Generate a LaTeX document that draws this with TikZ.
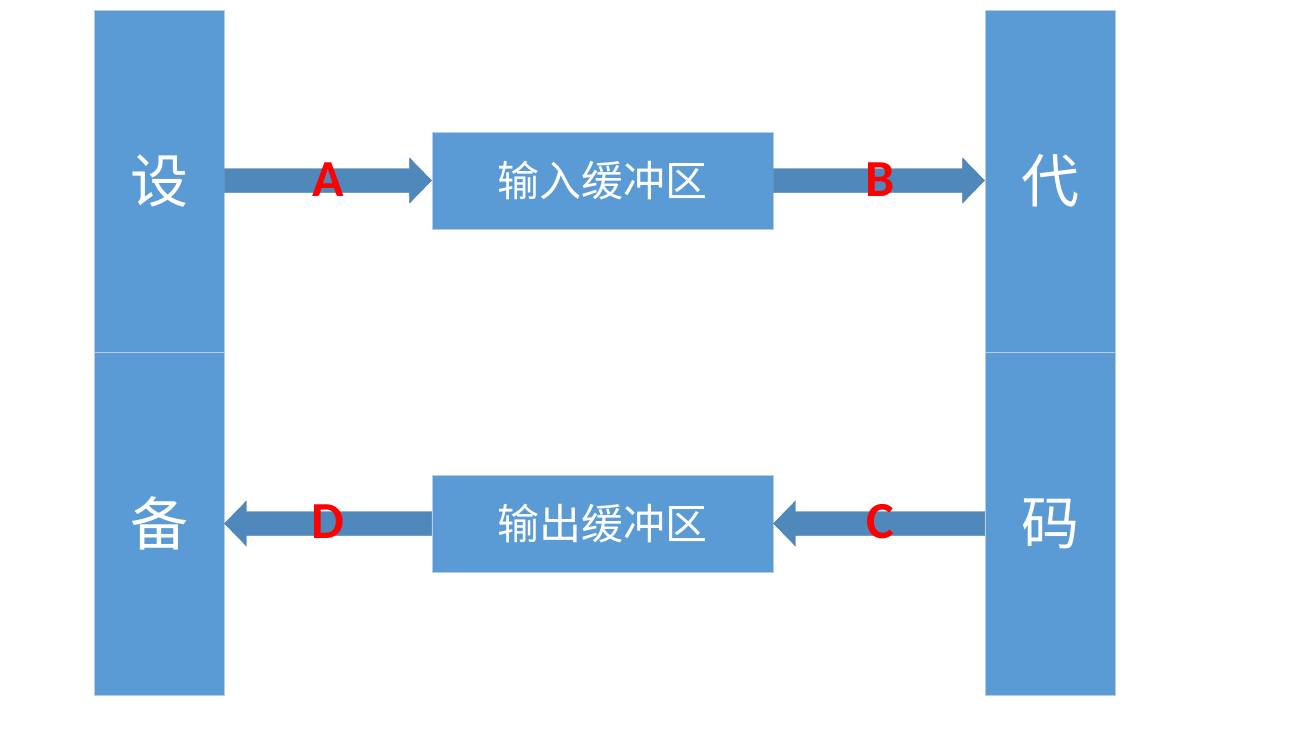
\documentclass[tikz,border=0pt]{standalone}
\usepackage{fontspec}
\newfontfamily\cjk{Noto Sans CJK SC}
\newfontfamily\lat{Carlito}[BoldFont={Carlito Bold}]
\usetikzlibrary{calc}
\definecolor{boxblue}{HTML}{5B9BD5}
\definecolor{boxline}{HTML}{B7CCE2}
\definecolor{arrowblue}{HTML}{4F89BC}
\definecolor{lblred}{HTML}{FF0000}
\tikzset{
  colbox/.style={rectangle, fill=boxblue, draw=boxline, line width=0.8pt, inner sep=0pt,
     minimum width=130pt, text=white, font=\cjk\fontsize{58}{60}\selectfont},
  bufbox/.style={rectangle, fill=boxblue, draw=boxline, line width=0.8pt, inner sep=0pt,
     minimum width=341pt, minimum height=97pt, text=white, font=\cjk\fontsize{42}{44}\selectfont},
  lbl/.style={text=lblred, font=\lat\bfseries\fontsize{52}{54}\selectfont, inner sep=0pt},
  barrow/.style={fill=arrowblue, draw=arrowblue!90!black, line width=0.3pt}
}
\newcommand\blockarrow[2]{%
  \path[barrow] let \p1=(#1), \p2=(#2), \n1={sign(\x2-\x1)} in
    (\x1,\y1+12pt) -- (\x2-\n1*22pt,\y1+12pt) -- (\x2-\n1*22pt,\y1+22.5pt) --
    (\x2,\y1) -- (\x2-\n1*22pt,\y1-22.5pt) -- (\x2-\n1*22pt,\y1-12pt) --
    (\x1,\y1-12pt) -- cycle;}
\begin{document}
\begin{tikzpicture}[x=1pt,y=-1pt]
\useasboundingbox (0,0) rectangle (1290,733);
\fill[white] (0,0) rectangle (1290,733);
% columns
\node[colbox, minimum height=342pt] (L1) at (159,181) {设};
\node[colbox, minimum height=343pt] (L2) at (159,523.5) {备};
\node[colbox, minimum height=342pt] (R1) at (1050,181) {代};
\node[colbox, minimum height=343pt] (R2) at (1050,523.5) {码};
% buffers
\node[bufbox] (IN) at (602.5,180.5) {输入缓冲区};
\node[bufbox] (OUT) at (602.5,523.5) {输出缓冲区};
% arrows
\coordinate (aS) at (L1.east |- IN.west);
\coordinate (bT) at (R1.west |- IN.east);
\coordinate (cS) at (R2.west |- OUT.east);
\coordinate (dT) at (L2.east |- OUT.west);
\blockarrow{aS}{IN.west}
\blockarrow{IN.east}{bT}
\blockarrow{cS}{OUT.east}
\blockarrow{OUT.west}{dT}
% labels
\node[lbl] (la) at (328,180) {A};
\node[lbl] (lb) at (880,180) {B};
\node[lbl] (lc) at (880,522) {C};
\node[lbl] (ld) at (328,522) {D};
\end{tikzpicture}
\end{document}
